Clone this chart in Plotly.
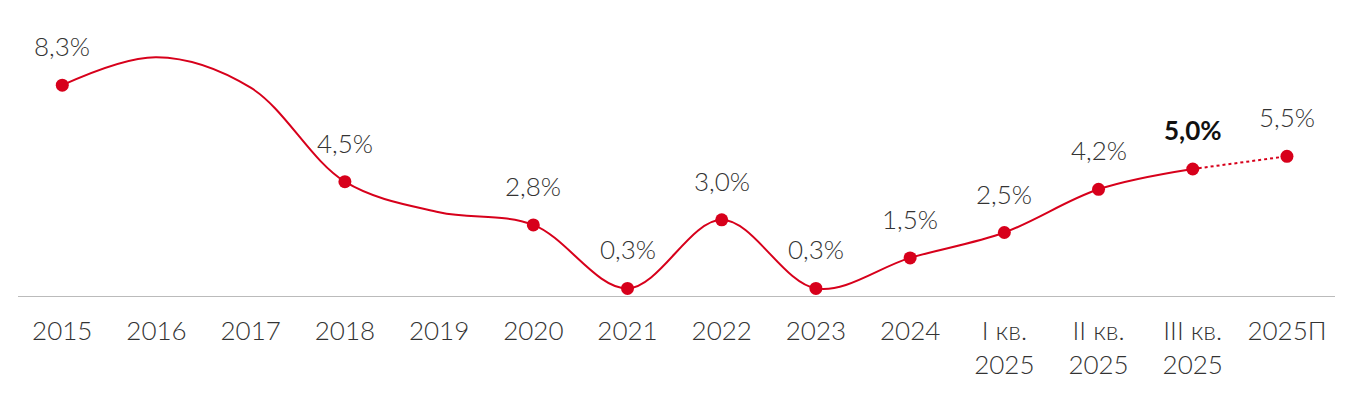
import plotly.graph_objects as go

categories = ["2015", "2016", "2017", "2018", "2019", "2020", "2021", "2022", "2023",
              "2024", "I кв.<br>2025", "II кв.<br>2025", "III кв.<br>2025", "2025П"]
# curve values (2016, 2017, 2019 are unlabelled points)
values = [8.3, 9.4, 8.2, 4.5, 3.3, 2.8, 0.3, 3.0, 0.3, 1.5, 2.5, 4.2, 5.0, 5.5]
labelled = [True, False, False, True, False, True, True, True, True, True, True, True, True, True]
labels = ["8,3%", "", "", "4,5%", "", "2,8%", "0,3%", "3,0%", "0,3%", "1,5%", "2,5%", "4,2%", "5,0%", "5,5%"]
bold_label = "III кв.<br>2025"

RED = "#d7001b"
TXT = "#333333"
FONT = "Lato"

x_idx = list(range(len(categories)))
solid_end = categories.index(bold_label)

fig = go.Figure()
fig.add_trace(go.Scatter(
    x=x_idx[:solid_end + 1], y=values[:solid_end + 1], mode="lines",
    line=dict(color=RED, width=2, shape="spline", smoothing=1.0),
    hoverinfo="skip", showlegend=False))
fig.add_trace(go.Scatter(
    x=x_idx[solid_end:], y=values[solid_end:], mode="lines",
    line=dict(color=RED, width=2, dash="dot"),
    hoverinfo="skip", showlegend=False))
mx = [i for i, f in zip(x_idx, labelled) if f]
my = [v for v, f in zip(values, labelled) if f]
fig.add_trace(go.Scatter(x=mx, y=my, mode="markers",
                         marker=dict(color=RED, size=13), showlegend=False))

for i, (v, lab, f) in enumerate(zip(values, labels, labelled)):
    if not f:
        continue
    is_bold = categories[i] == bold_label
    fig.add_annotation(x=i, y=v, text=lab,
                       showarrow=False, yshift=39,
                       font=dict(family=FONT, size=26,
                                 weight=700 if is_bold else 300,
                                 color="#111111" if is_bold else TXT))

# page body has an 8px margin; the figure is sized so the plot lands where the reference has it
fig.update_layout(
    width=1335, height=399,
    margin=dict(l=10, r=8, t=0, b=111),
    paper_bgcolor="white", plot_bgcolor="white",
    font=dict(family=FONT, size=26, color=TXT, weight=300),
    xaxis=dict(tickmode="array", tickvals=x_idx, ticktext=categories,
               range=[-0.47, 13.51], showgrid=False, zeroline=False,
               showline=True, linecolor="#bbbbbb", linewidth=1,
               ticks="outside", ticklen=12, tickcolor="rgba(0,0,0,0)",
               tickfont=dict(family=FONT, size=26, color=TXT, weight=300)),
    yaxis=dict(range=[0, 288 / 25.4], visible=False, fixedrange=True),
)

fig.write_html("out.html")
